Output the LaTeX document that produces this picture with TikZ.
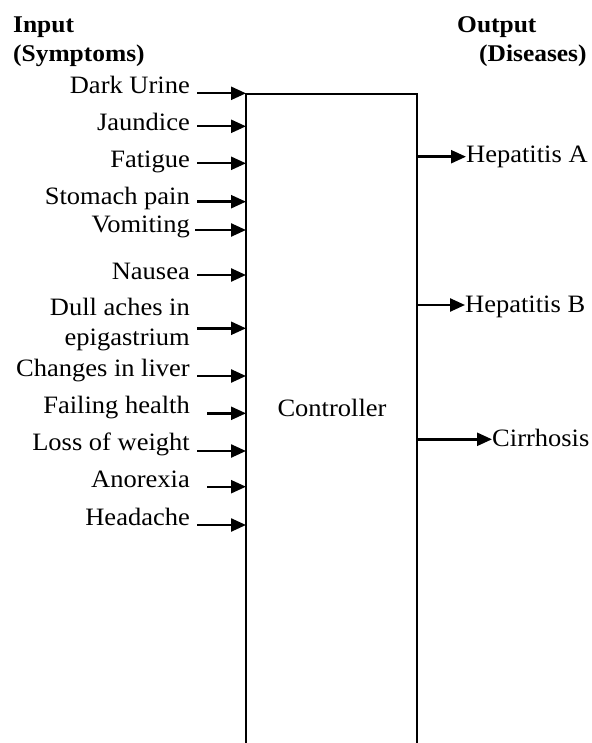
\documentclass[tikz,border=0pt]{standalone}
\usepackage{fontspec}
\setmainfont{Liberation Serif}[FakeStretch=1.06]
\usetikzlibrary{arrows.meta}
\begin{document}
\begin{tikzpicture}[x=1pt,y=-1pt,
  lbl/.style={inner sep=0pt,anchor=base east,font=\fontsize{25}{30}\selectfont},
  rlbl/.style={inner sep=0pt,anchor=base west,font=\fontsize{25}{30}\selectfont},
  head/.style={inner sep=0pt,anchor=base west,font=\fontsize{24}{30}\selectfont\bfseries},
  arr/.style={line width=2.4pt,-{Triangle[length=15pt,width=13pt]}},
  boxline/.style={line width=2pt}]
\useasboundingbox (0,0) rectangle (591,743);
% box
\coordinate (bl) at (246,760);
\coordinate (tl) at (246,94.5);
\coordinate (tr) at (417,94.5);
\coordinate (br) at (417,760);
\draw[boxline] (bl) -- (tl) -- (tr) -- (br);
\node[rlbl,anchor=base] (ctrl) at (332,416.7) {Controller};
% headings
\node[head] (in1) at (13,33) {Input};
\node[head] (in2) at (13,62) {(Symptoms)};
\node[head] (out1) at (457,33) {Output};
\node[head] (out2) at (479,61.5) {(Diseases)};
% inputs: name/text/baseline/arrow y/arrow start x
\foreach \n/\t/\b/\a/\s in {
  s1/Dark Urine/93.5/93.3/197,
  s2/Jaundice/131/126.3/197,
  s3/Fatigue/168/163.3/197,
  s4/Stomach pain/204.5/201.7/197,
  s5/Vomiting/233/230/195,
  s6/Nausea/279/275/197,
  s8/Changes in liver/376.7/376/197,
  s9/Failing health/413/413.3/207,
  s10/Loss of weight/450/451/197,
  s11/Anorexia/487/486.7/207,
  s12/Headache/525/525/197}{
  \node[lbl] (\n) at (190,\b) {\t};
  \coordinate (\n-tail) at (\s,\a);
  \draw[arr] (\n-tail) -- (tl |- \n-tail);
}
\node[lbl] (s7) at (190,315) {\begin{tabular}[t]{@{}r@{}}Dull aches in\\epigastrium\end{tabular}};
\coordinate (s7-tail) at (197,328.3);
\draw[arr] (s7-tail) -- (tl |- s7-tail);
% outputs
\node[rlbl] (o1) at (466,163) {Hepatitis A};
\node[rlbl] (o2) at (465,312) {Hepatitis B};
\node[rlbl] (o3) at (492,446) {Cirrhosis};
\draw[arr] (tr |- 0,156.7) -- (o1.west |- 0,156.7);
\draw[arr] (tr |- 0,305) -- (o2.west |- 0,305);
\draw[arr] (tr |- 0,439.3) -- (o3.west |- 0,439.3);
\end{tikzpicture}
\end{document}
